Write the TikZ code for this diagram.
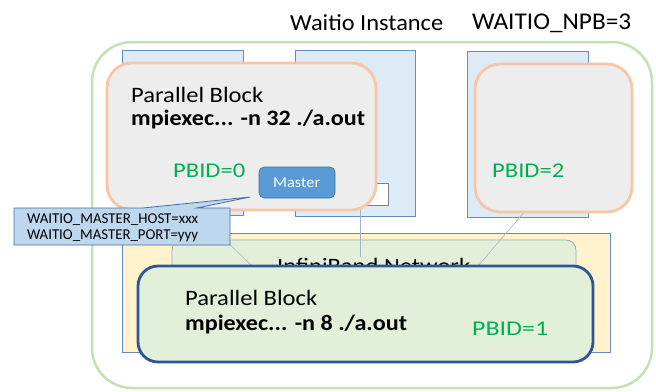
\documentclass[tikz,border=0pt]{standalone}
\usepackage{graphicx}
\usepackage{fontspec}
\setmainfont{Carlito}
\definecolor{outgreen}{RGB}{197,224,180}
\definecolor{rectblue}{RGB}{100,140,190}
\definecolor{lightblue}{RGB}{221,235,247}
\definecolor{lightyellow}{RGB}{255,242,204}
\definecolor{lightgreen}{RGB}{226,240,217}
\definecolor{ibborder}{RGB}{150,170,195}
\definecolor{darkblue}{RGB}{47,85,151}
\definecolor{pborange}{RGB}{248,198,165}
\definecolor{pbgray}{RGB}{237,237,237}
\definecolor{masterfill}{RGB}{91,155,213}
\definecolor{masterdraw}{RGB}{65,113,156}
\definecolor{calloutfill}{RGB}{189,215,238}
\definecolor{calloutdraw}{RGB}{70,110,160}
\definecolor{pbidgreen}{RGB}{0,176,80}
\definecolor{thinline}{RGB}{160,180,205}
\newcommand\hbx[3]{\resizebox{#1}{\height}{#2#3}}
\newcommand\mybigf{\fontsize{22}{26}\selectfont}
\newcommand\mybigbf{\fontsize{22}{26}\selectfont\bfseries}
\newcommand\mypbf{\fontsize{21}{26}\selectfont}
\newcommand\mysmf{\fontsize{15}{18}\selectfont}
\begin{document}
\begin{tikzpicture}[x=1pt,y=-1pt,
  outerbox/.style={draw=outgreen, line width=2.5pt, rounded corners=40pt},
  bluerect/.style={draw=rectblue, fill=lightblue, line width=0.8pt},
  yellowrect/.style={draw=rectblue, fill=lightyellow, line width=0.8pt},
  ibbox/.style={draw=ibborder, fill=lightgreen, line width=0.8pt, rounded corners=10pt},
  pbgreen/.style={draw=darkblue, fill=lightgreen, line width=2.8pt, rounded corners=20pt},
  pbgrey/.style={draw=pborange, fill=pbgray, line width=2.8pt, rounded corners=25pt},
  txt/.style={anchor=base west, inner sep=0pt},
  pbidtext/.style={txt, text=pbidgreen},
  conn/.style={draw=thinline, line width=0.6pt}
]
\useasboundingbox (0,0) rectangle (656,391);
\fill[white] (0,0) rectangle (656,391);

% title texts
\node[txt] (title) at (290,30) {\hbx{153pt}{\fontsize{23}{27}\selectfont}{Waitio Instance}};
\node[txt] (npb) at (472,29) {\hbx{159pt}{\fontsize{24}{28}\selectfont}{WAITIO\_NPB=3}};

% outer instance box
\draw[outerbox] (92,42) rectangle (652,388);

% node rectangles
\draw[bluerect] (122,50) rectangle (243,215);
\draw[bluerect] (295,50) rectangle (415,216);
\draw[bluerect] (467,51) rectangle (588,217);

% network area
\draw[yellowrect] (122,233) rectangle (610,352);
\draw[ibbox] (172,240) rectangle (576,300);
\node[txt] (ib) at (277,273) {\hbx{193pt}{\mybigf}{InfiniBand Network}};

% thin connectors
\coordinate (ca) at (215,230);
\coordinate (cb) at (252,266);
\coordinate (cc) at (360,205);
\coordinate (cd) at (360,257);
\coordinate (ce) at (526,210);
\coordinate (cf) at (478,266);
\draw[conn] (ca) -- (cb);
\draw[conn] (cc) -- (cd);
\draw[conn] (ce) -- (cf);

% bottom parallel block
\draw[pbgreen] (138,266) rectangle (593,362);
\node[txt] (pb1a) at (185,305) {\hbx{132pt}{\mybigf}{Parallel Block}};
\node[txt] (pb1b) at (185,330) {\hbx{222pt}{\mybigbf}{mpiexec... -n 8 ./a.out}};
\node[pbidtext] (pbid1) at (472,335) {\hbx{76pt}{\mypbf}{PBID=1}};

% small white box
\draw[draw=gray, fill=white, line width=0.6pt] (367,183) rectangle (388,205);

% top-left parallel block
\draw[pbgrey] (107,63) rectangle (376,210);
\node[txt] (pb0a) at (131,102) {\hbx{132pt}{\mybigf}{Parallel Block}};
\node[txt] (pb0b) at (131,125) {\hbx{234pt}{\mybigbf}{mpiexec... -n 32 ./a.out}};
\node[pbidtext] (pbid0) at (173,177) {\hbx{72pt}{\mypbf}{PBID=0}};

% right parallel block
\draw[pbgrey] (475,64) rectangle (632,212);
\node[pbidtext] (pbid2) at (492,177) {\hbx{72pt}{\mypbf}{PBID=2}};

% master
\node[draw=masterdraw, fill=masterfill, line width=0.6pt, rounded corners=5pt,
      minimum width=76pt, minimum height=31pt] (master) at (297,182.5) {};
\node[txt, text=white] (mastertext) at (273,187) {\hbx{47pt}{\mysmf}{Master}};

% callout
\draw[draw=calloutdraw, fill=calloutfill, line width=0.8pt]
  (14,208) -- (143,208) -- (250,197) -- (197,208) -- (230,208) -- (230,245) -- (14,245) -- cycle;
\node[txt] (host) at (27,223) {\hbx{171pt}{\mysmf}{WAITIO\_MASTER\_HOST=xxx}};
\node[txt] (port) at (27,239) {\hbx{171pt}{\mysmf}{WAITIO\_MASTER\_PORT=yyy}};
\end{tikzpicture}
\end{document}
